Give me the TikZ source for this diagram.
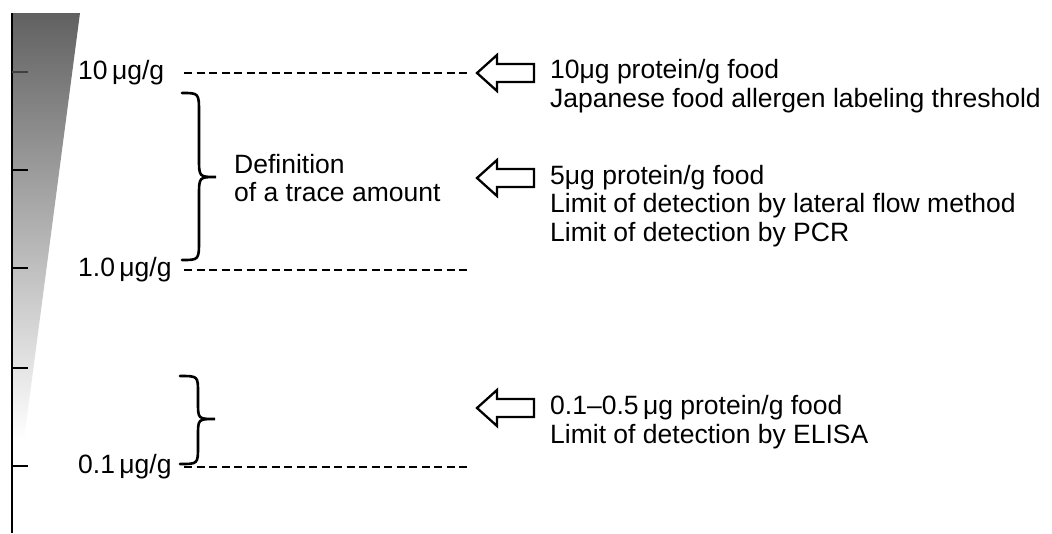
\documentclass[tikz,border=0pt]{standalone}
\usepackage{fontspec}
\setmainfont{Liberation Sans}
\begin{document}
\begin{tikzpicture}[x=1pt,y=-1pt,
  every node/.style={inner sep=0pt, font=\fontsize{26.5}{28.5}\selectfont},
  axisline/.style={line width=2.8pt},
  tickmark/.style={line width=2.4pt},
  dashline/.style={line width=2.3pt, dash pattern=on 8pt off 4.5pt},
  bracestyle/.style={line width=2.6pt, line cap=round},
  hollowarrow/.style={line width=2.3pt, line join=miter, fill=white},
  lbl/.style={anchor=west},
  txt/.style={anchor=west, align=left},
]
\useasboundingbox (0,0) rectangle (1052,533);
% gray wedge
\shade[top color=black!62, middle color=black!30, bottom color=white]
  (12,13) -- (80,13) -- (24,440) -- (12,440) -- cycle;
% axis
\coordinate (axtop) at (12,13);
\coordinate (axbot) at (12,533);
\draw[axisline] (axtop) -- (axbot);
\draw[tickmark, black!75] (12,72) -- (28,72);
\foreach \y in {170,268,368,466} \draw[tickmark] (12,\y) -- (28,\y);
% labels
\node[lbl] (l10) at (78,73) {10\,μg/g};
\node[lbl] (l1) at (78,270) {1.0\,μg/g};
\node[lbl] (l01) at (78,467) {0.1\,μg/g};
% dashed lines
\coordinate (d10s) at (184,73);  \coordinate (d10e) at (468,73);
\coordinate (d1s) at (184,270);  \coordinate (d1e) at (468,270);
\coordinate (d01s) at (184,467); \coordinate (d01e) at (468,467);
\draw[dashline] (d10s) -- (d10e);
\draw[dashline] (d1s) -- (d1e);
\draw[dashline] (d01s) -- (d01e);
% braces
\coordinate (b1t) at (182,93);
\coordinate (b1b) at (182,260);
\coordinate (b1m) at (216,177);
\draw[bracestyle] (b1t) .. controls (199,93) .. (199,113) -- (199,158)
  .. controls (199,177) .. (b1m) .. controls (199,177) .. (199,196) -- (199,240)
  .. controls (199,260) .. (b1b);
\coordinate (b2t) at (180,376);
\coordinate (b2b) at (180,464);
\coordinate (b2m) at (215,419);
\draw[bracestyle] (b2t) .. controls (198,376) .. (198,393) -- (198,402)
  .. controls (198,419) .. (b2m) .. controls (198,419) .. (198,436) -- (198,446)
  .. controls (198,464) .. (b2b);
\node[txt] (def) at (234,178) {Definition\\of a trace amount};
% hollow arrows
\coordinate (a1) at (477,73);
\coordinate (a2) at (477,178);
\coordinate (a3) at (477,408);
\foreach \a in {a1,a2,a3}
  \draw[hollowarrow] (\a) -- ++(20,-18) -- ++(0,9) -- ++(37,0) -- ++(0,18)
    -- ++(-37,0) -- ++(0,9) -- cycle;
% right texts
\node[txt] (t1) at (550,86) {10μg protein/g food\\Japanese food allergen labeling threshold};
\node[txt] (t2) at (550,206) {5μg protein/g food\\Limit of detection by lateral flow method\\Limit of detection by PCR};
\node[txt] (t3) at (550,422) {0.1–0.5\,μg protein/g food\\Limit of detection by ELISA};
\end{tikzpicture}
\end{document}
